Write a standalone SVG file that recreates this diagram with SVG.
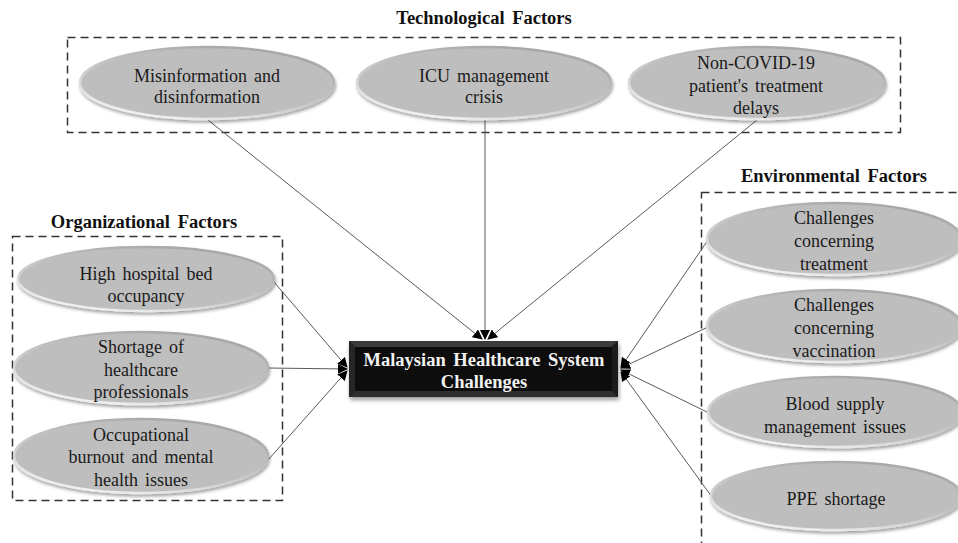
<svg xmlns="http://www.w3.org/2000/svg" width="958" height="543" viewBox="0 0 958 543">
  <defs>
    <style>
      .title { font-family: "Liberation Serif", "Times New Roman", serif; font-size: 18.5px; font-weight: bold; fill: #111; text-anchor: middle; word-spacing: 3px; }
      .label { font-family: "Liberation Serif", "Times New Roman", serif; font-size: 18px; fill: #1a1a1a; text-anchor: middle; word-spacing: 2.5px; }
      .core { font-family: "Liberation Serif", "Times New Roman", serif; font-size: 18.5px; font-weight: bold; fill: #f2f2f2; text-anchor: middle; word-spacing: 3px; }
      .frame { fill: none; stroke: #333; stroke-width: 1.5; stroke-dasharray: 8 5; }
      .pill { fill: #bebebe; stroke: url(#rim); stroke-width: 2.5; filter: url(#shade); }
      .link { stroke: #5a5a5a; stroke-width: 1; fill: none; marker-end: url(#tip); }
    </style>
    <linearGradient id="rim" x1="0" y1="1" x2="0.6" y2="0">
      <stop offset="0" stop-color="#ffffff"/>
      <stop offset="0.45" stop-color="#d0d0d0"/>
      <stop offset="1" stop-color="#a8a8a8"/>
    </linearGradient>
    <filter id="shade" x="-10%" y="-20%" width="120%" height="150%">
      <feDropShadow dx="1" dy="2.5" stdDeviation="1.8" flood-color="#000" flood-opacity="0.35"/>
    </filter>
    <filter id="boxshade" x="-10%" y="-20%" width="120%" height="150%">
      <feDropShadow dx="1" dy="3" stdDeviation="2" flood-color="#000" flood-opacity="0.4"/>
    </filter>
    <marker id="tip" viewBox="0 0 10 10" refX="9" refY="5" markerWidth="10" markerHeight="10" markerUnits="userSpaceOnUse" orient="auto">
      <path d="M0,0 L10,5 L0,10 Z" fill="#000"/>
    </marker>
  </defs>

  <rect width="958" height="543" fill="#ffffff"/>

  <!-- group frames and headings -->
  <g id="frames">
    <rect class="frame" x="67.5" y="37.5" width="833" height="95"/>
    <text class="title" x="484" y="24">Technological Factors</text>
    <rect class="frame" x="12.5" y="236.5" width="270" height="264"/>
    <text class="title" x="144" y="228">Organizational Factors</text>
    <rect class="frame" x="701.5" y="192.5" width="270" height="370"/>
    <text class="title" x="834" y="182">Environmental Factors</text>
  </g>

  <!-- connectors into the central box -->
  <g id="connectors">
    <line class="link" x1="208" y1="120" x2="482" y2="339"/>
    <line class="link" x1="485" y1="120" x2="485" y2="339"/>
    <line class="link" x1="757" y1="120" x2="488" y2="339"/>
    <line class="link" x1="274" y1="282" x2="347" y2="367"/>
    <line class="link" x1="268" y1="368" x2="347" y2="369"/>
    <line class="link" x1="268" y1="460" x2="347" y2="371"/>
    <line class="link" x1="708" y1="240" x2="621" y2="367"/>
    <line class="link" x1="708" y1="327" x2="621" y2="368"/>
    <line class="link" x1="709" y1="413" x2="621" y2="370"/>
    <line class="link" x1="712" y1="497" x2="621" y2="372"/>
  </g>

  <!-- central node -->
  <g id="core">
    <g filter="url(#boxshade)">
      <rect x="349" y="341" width="269" height="56" fill="#050505"/>
      <polygon points="349,341 618,341 612,347 355,347" fill="#3a3a3a"/>
      <polygon points="349,341 355,347 355,391 349,397" fill="#262626"/>
      <polygon points="618,341 618,397 612,391 612,347" fill="#1a1a1a"/>
      <polygon points="349,397 355,391 612,391 618,397" fill="#2e2e2e"/>
      <rect x="355" y="347" width="257" height="44" fill="#0b0b0b"/>
    </g>
    <text class="core" x="484" y="366">Malaysian Healthcare System</text>
    <text class="core" x="484" y="388">Challenges</text>
  </g>

  <!-- technological factors -->
  <g id="tech-misinformation">
    <ellipse class="pill" cx="207" cy="83" rx="127" ry="36"/>
    <text class="label" x="207" y="82">Misinformation and</text>
    <text class="label" x="207" y="103">disinformation</text>
  </g>
  <g id="tech-icu">
    <ellipse class="pill" cx="484" cy="83" rx="127" ry="36"/>
    <text class="label" x="484" y="82">ICU management</text>
    <text class="label" x="484" y="103">crisis</text>
  </g>
  <g id="tech-delays">
    <ellipse class="pill" cx="757" cy="83" rx="128" ry="36"/>
    <text class="label" x="756" y="69">Non-COVID-19</text>
    <text class="label" x="756" y="92">patient's treatment</text>
    <text class="label" x="756" y="114">delays</text>
  </g>

  <!-- organizational factors -->
  <g id="org-beds">
    <ellipse class="pill" cx="146" cy="279" rx="128" ry="32"/>
    <text class="label" x="146" y="280">High hospital bed</text>
    <text class="label" x="146" y="302">occupancy</text>
  </g>
  <g id="org-staff">
    <ellipse class="pill" cx="141" cy="368" rx="127" ry="36"/>
    <text class="label" x="141" y="353">Shortage of</text>
    <text class="label" x="141" y="376">healthcare</text>
    <text class="label" x="141" y="398">professionals</text>
  </g>
  <g id="org-burnout">
    <ellipse class="pill" cx="141" cy="456" rx="127" ry="37"/>
    <text class="label" x="141" y="441">Occupational</text>
    <text class="label" x="141" y="463">burnout and mental</text>
    <text class="label" x="141" y="486">health issues</text>
  </g>

  <!-- environmental factors -->
  <g id="env-treatment">
    <ellipse class="pill" cx="834" cy="239" rx="127" ry="36"/>
    <text class="label" x="834" y="224">Challenges</text>
    <text class="label" x="834" y="247">concerning</text>
    <text class="label" x="834" y="270">treatment</text>
  </g>
  <g id="env-vaccination">
    <ellipse class="pill" cx="834" cy="326" rx="127" ry="36"/>
    <text class="label" x="834" y="311">Challenges</text>
    <text class="label" x="834" y="334">concerning</text>
    <text class="label" x="834" y="357">vaccination</text>
  </g>
  <g id="env-blood">
    <ellipse class="pill" cx="835" cy="412" rx="127" ry="35"/>
    <text class="label" x="835" y="410">Blood supply</text>
    <text class="label" x="835" y="433">management issues</text>
  </g>
  <g id="env-ppe">
    <ellipse class="pill" cx="836" cy="496" rx="125" ry="34"/>
    <text class="label" x="836" y="505">PPE shortage</text>
  </g>
</svg>
